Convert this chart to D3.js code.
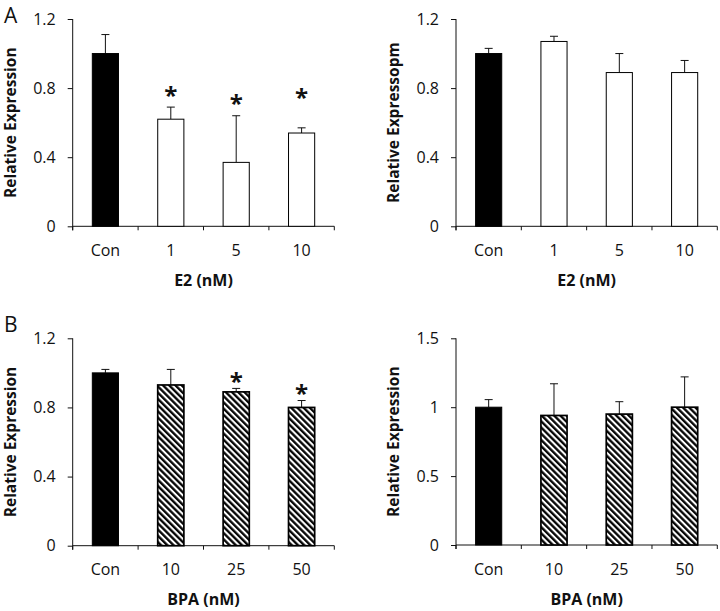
<!DOCTYPE html>
<html><head><meta charset="utf-8">
<script src="https://cdn.jsdelivr.net/npm/d3@7/dist/d3.min.js"></script>
<style>
body{margin:0;background:#fff}
text{font-family:"Open Sans",sans-serif;fill:#111}
</style>
</head><body>
<svg id="chart" width="720" height="611"></svg>
<script>
// ---- data ----
const catsE2 = ["Con", "1", "5", "10"];
const catsBPA = ["Con", "10", "25", "50"];

const a1Values = [1.00, 0.62, 0.37, 0.54];
const a1Errors = [0.11, 0.07, 0.27, 0.03];
const a1Sig    = [null, 0.786, 0.737, 0.774];

const a2Values = [1.00, 1.07, 0.89, 0.89];
const a2Errors = [0.03, 0.03, 0.11, 0.07];
const a2Sig    = [null, null, null, null];

const b1Values = [1.00, 0.93, 0.89, 0.80];
const b1Errors = [0.02, 0.09, 0.02, 0.04];
const b1Sig    = [null, null, 0.978, 0.909];

const b2Values = [1.00, 0.94, 0.95, 1.00];
const b2Errors = [0.055, 0.23, 0.09, 0.22];
const b2Sig    = [null, null, null, null];

const ticks12 = [0, 0.4, 0.8, 1.2];
const ticks15 = [0, 0.5, 1, 1.5];
const tickLabels12 = ["0", "0.4", "0.8", "1.2"];
const tickLabels15 = ["0", "0.5", "1", "1.5"];

// ---- drawing ----
const svg = d3.select("#chart");
const defs = svg.append("defs");
const pat = defs.append("pattern")
  .attr("id", "hatch").attr("patternUnits", "userSpaceOnUse")
  .attr("width", 4.4).attr("height", 4.4)
  .attr("patternTransform", "rotate(-45)");
pat.append("rect").attr("width", 4.4).attr("height", 4.4).attr("fill", "#fff");
pat.append("line").attr("x1", 1.2).attr("x2", 1.2).attr("y1", -1).attr("y2", 6)
  .attr("stroke", "#000").attr("stroke-width", 2.3);

function panel(o) {
  const g = svg.append("g");
  const y = d3.scaleLinear().domain([0, o.yMax]).range([o.bottom, o.top]);
  const x = d3.scaleBand().domain(o.cats).range([o.left, o.right])
    .paddingInner(0.6).paddingOuter(0.3);
  const xb = d3.scaleLinear().domain([0, o.cats.length]).range([o.left, o.right]);

  // y axis
  const yAxis = d3.axisLeft(y).tickValues(o.ticks)
    .tickFormat((d, i) => o.tickLabels[i]).tickSizeOuter(0).tickSize(5).tickPadding(12);
  const ya = g.append("g").attr("transform", `translate(${o.left},0)`).call(yAxis);
  ya.select(".domain").remove();
  ya.selectAll("line").attr("stroke", "#111");
  ya.selectAll("text").attr("font-size", 16).attr("font-family", '"Open Sans",sans-serif').attr("fill", "#222");
  g.append("line").attr("x1", o.left).attr("x2", o.left).attr("y1", o.top).attr("y2", o.bottom + 4)
    .attr("stroke", "#111");

  // x axis
  g.append("line").attr("x1", o.left).attr("x2", o.right).attr("y1", o.bottom).attr("y2", o.bottom)
    .attr("stroke", "#111");
  g.selectAll(".xt").data(d3.range(o.cats.length + 1)).enter().append("line")
    .attr("x1", d => xb(d)).attr("x2", d => xb(d))
    .attr("y1", o.bottom).attr("y2", o.bottom + 4).attr("stroke", "#111");
  g.selectAll(".xl").data(o.cats).enter().append("text")
    .attr("x", d => x(d) + x.bandwidth() / 2).attr("y", o.bottom + 24)
    .attr("dy", "0.35em").attr("text-anchor", "middle").attr("font-size", 16).attr("fill", "#222")
    .text(d => d);

  // bars
  const data = o.cats.map((c, i) => ({c, v: o.values[i], e: o.errors[i], s: o.sig[i], i}));
  data.forEach(d => {
    const cx = x(d.c) + x.bandwidth() / 2;
    g.append("line").attr("x1", cx).attr("x2", cx).attr("y1", y(d.v)).attr("y2", y(d.v + d.e))
      .attr("stroke", "#111").attr("stroke-width", 1);
    g.append("line").attr("x1", cx - 4).attr("x2", cx + 4).attr("y1", y(d.v + d.e)).attr("y2", y(d.v + d.e))
      .attr("stroke", "#111").attr("stroke-width", 1);
  });
  g.selectAll(".bar").data(data).enter().append("rect")
    .attr("x", d => x(d.c)).attr("width", x.bandwidth())
    .attr("y", d => y(d.v)).attr("height", d => y(0) - y(d.v))
    .attr("fill", d => d.i === 0 ? "#000" : (o.hatch ? "url(#hatch)" : "#fff"))
    .attr("stroke", "#000").attr("stroke-width", d => d.i === 0 ? 1 : (o.hatch ? 1.7 : 1));
  data.filter(d => d.s != null).forEach(d => {
    g.append("text").attr("x", x(d.c) + x.bandwidth() / 2).attr("y", y(d.s) + 13)
      .attr("text-anchor", "middle").attr("font-size", 24).attr("font-weight", "bold").attr("fill", "#111")
      .text("*");
  });

  // titles
  g.append("text").attr("x", (o.left + o.right) / 2).attr("y", o.bottom + 54).attr("dy", "0.35em")
    .attr("text-anchor", "middle").attr("font-size", 16).attr("font-weight", "bold").attr("fill", "#222")
    .text(o.xTitle);
  g.append("text").attr("transform", `translate(${o.left - 62.5},${(o.top + o.bottom) / 2}) rotate(-90)`)
    .attr("dy", "0.35em").attr("text-anchor", "middle").attr("font-size", 15.5).attr("font-weight", "bold")
    .attr("fill", "#222").text(o.yTitle);
}

panel({left: 72.7, right: 334.3, top: 19, bottom: 226.3, yMax: 1.2, ticks: ticks12, tickLabels: tickLabels12,
  cats: catsE2, values: a1Values, errors: a1Errors, sig: a1Sig, hatch: false,
  xTitle: "E2 (nM)", yTitle: "Relative Expression"});
panel({left: 456, right: 717.3, top: 19, bottom: 226.3, yMax: 1.2, ticks: ticks12, tickLabels: tickLabels12,
  cats: catsE2, values: a2Values, errors: a2Errors, sig: a2Sig, hatch: false,
  xTitle: "E2 (nM)", yTitle: "Relative Expressopm"});
panel({left: 72.7, right: 334.3, top: 338.3, bottom: 545.7, yMax: 1.2, ticks: ticks12, tickLabels: tickLabels12,
  cats: catsBPA, values: b1Values, errors: b1Errors, sig: b1Sig, hatch: true,
  xTitle: "BPA (nM)", yTitle: "Relative Expression"});
panel({left: 456, right: 717.3, top: 338.3, bottom: 545, yMax: 1.5, ticks: ticks15, tickLabels: tickLabels15,
  cats: catsBPA, values: b2Values, errors: b2Errors, sig: b2Sig, hatch: true,
  xTitle: "BPA (nM)", yTitle: "Relative Expression"});

svg.append("text").attr("x", 4).attr("y", 23).attr("font-size", 21)
  .attr("font-family", '"Liberation Sans",Arial,sans-serif').attr("fill", "#111").text("A");
svg.append("text").attr("x", 4).attr("y", 332).attr("font-size", 21)
  .attr("font-family", '"Liberation Sans",Arial,sans-serif').attr("fill", "#111").text("B");
</script>
</body></html>
